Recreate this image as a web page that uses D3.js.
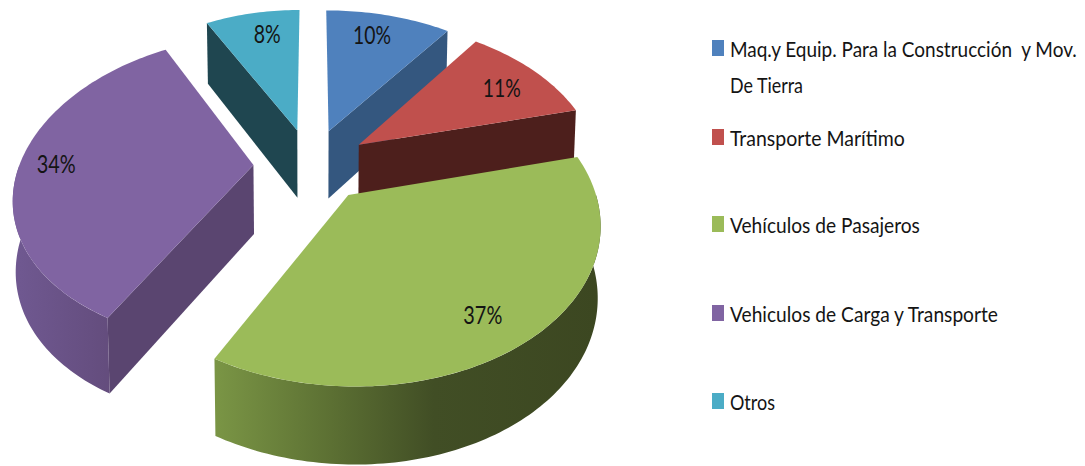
<!DOCTYPE html>
<html><head><meta charset="utf-8">
<script src="https://cdnjs.cloudflare.com/ajax/libs/d3/7.8.5/d3.min.js"></script>
<style>html,body{margin:0;padding:0;background:#fff}svg{display:block}text{font-family:Lato,"Open Sans",sans-serif;fill:#141414;white-space:pre}</style>
</head><body><svg id="c" width="1085" height="466"></svg>
<script>
const values=[10,11,37,34,8];
const labels=["10%","11%","37%","34%","8%"];
const legendLines=[["Maq.y Equip. Para la Construcción  y Mov.","De Tierra"],["Transporte Marítimo"],["Vehículos de Pasajeros"],["Vehiculos de Carga y Transporte"],["Otros"]];
const topColors=["#4f81bd","#c0504d","#9bbb59","#8064a2","#4bacc6"];
const sideColors=["#34577f","#4d1f1c","#3f4a23","#5a4570","#1f4650"];
const labelWidths=[38,38,39,39,27];
const labelNudgeX=[-6,1,-5.5,-10,7];
const labelNudgeY=[-1,4,7,-1,0];
const legendWidths=[[347,73],[175],[190],[268],[45]];
const legendBaselines=[[57,93],[146],[233],[322],[410]];

const K=0.16, EXPLODE=0.246, LABEL_R=0.8, DEPTH=69, DEPTH_GROW=0.11, BOTTOM_SCALE=0.99;
const cx=311, cy=165;
const xS=d3.scaleLinear().domain([0,1]).range([cx,cx+240]);
const yS=d3.scaleLinear().domain([0,1]).range([cy,cy+150]);
const svg=d3.select("#c");
const pie=d3.pie().sort(null).value(d=>d)(values);
const line=d3.line().x(d=>d[0]).y(d=>d[1]);

function project(u,v){
  const s=1/(1-K*v);
  const lens=u<0?0.975+0.03*v:1;
  return [xS(u*s*lens),yS(v*s),v];
}
function lower(p){return [cx+(p[0]-cx)*BOTTOM_SCALE,p[1]+DEPTH*(1+DEPTH_GROW*p[2]),p[2]];}
function geom(sl){
  const mid=(sl.startAngle+sl.endAngle)/2;
  const eu=EXPLODE*Math.sin(mid), ev=-EXPLODE*Math.cos(mid);
  const pt=(a,r)=>project(eu+r*Math.sin(a),ev-r*Math.cos(a));
  return {mid,pt};
}
function samples(a0,a1){const n=Math.max(2,Math.ceil((a1-a0)/0.02));return d3.range(n+1).map(i=>a0+(a1-a0)*i/n);}

const defs=svg.append("defs");
const wallStops=[null,null,
  [[0,"#7a9545"],[0.3,"#5c7033"],[0.57,"#414e25"],[1,"#3c4721"]],
  [[0,"#6f5890"],[1,"#634c7c"]],null];
const wallExtent=[null,null,[216,598],[20,114],null];
wallStops.forEach((st,i)=>{ if(!st)return;
  const g=defs.append("linearGradient").attr("id","wall"+i).attr("gradientUnits","userSpaceOnUse")
    .attr("x1",wallExtent[i][0]).attr("x2",wallExtent[i][1]).attr("y1",0).attr("y2",0);
  st.forEach(s=>g.append("stop").attr("offset",s[0]).attr("stop-color",s[1]));
});

const order=[4,0,1,3,2];
order.forEach(i=>{
  const sl=pie[i], g=geom(sl), group=svg.append("g");
  const apex=g.pt(0,0);
  [[sl.startAngle,-1],[sl.endAngle,1]].forEach(([a,sign])=>{
    const normalV=-Math.cos(a+sign*Math.PI/2);
    if(normalV<=0.01)return;
    const e=g.pt(a,1);
    group.append("path").attr("d",line([apex,e,lower(e),lower(apex)])+"Z").attr("fill",sideColors[i]);
  });
  const w0=Math.max(sl.startAngle,Math.PI/2), w1=Math.min(sl.endAngle,1.5*Math.PI);
  if(w1>w0){
    const arc=samples(w0,w1).map(a=>g.pt(a,1));
    group.append("path").attr("d",line(arc.concat(arc.slice().reverse().map(lower)))+"Z")
      .attr("fill",wallStops[i]?`url(#wall${i})`:sideColors[i]);
  }
  const rim=samples(sl.startAngle,sl.endAngle).map(a=>g.pt(a,1));
  group.append("path").attr("d",line([apex].concat(rim))+"Z").attr("fill",topColors[i]);
});

// squeeze text horizontally to the reference's narrow letterforms
function fitted(str,x,y,size,width,anchor){
  const t=svg.append("text").attr("font-size",size).attr("text-anchor",anchor).text(str);
  const natural=t.node().getComputedTextLength();
  t.attr("transform",`translate(${x},${y}) scale(${width/natural},1)`);
  return t;
}
pie.forEach((sl,i)=>{
  const g=geom(sl), p=g.pt(g.mid,LABEL_R);
  fitted(labels[i],p[0]+labelNudgeX[i],p[1]+9+labelNudgeY[i],25,labelWidths[i],"middle");
});
legendLines.forEach((lines,i)=>{
  svg.append("rect").attr("x",712).attr("y",legendBaselines[i][0]-17).attr("width",12).attr("height",16).attr("fill",topColors[i]);
  lines.forEach((t,j)=>fitted(t,730,legendBaselines[i][j],22,legendWidths[i][j],"start"));
});
</script></body></html>
